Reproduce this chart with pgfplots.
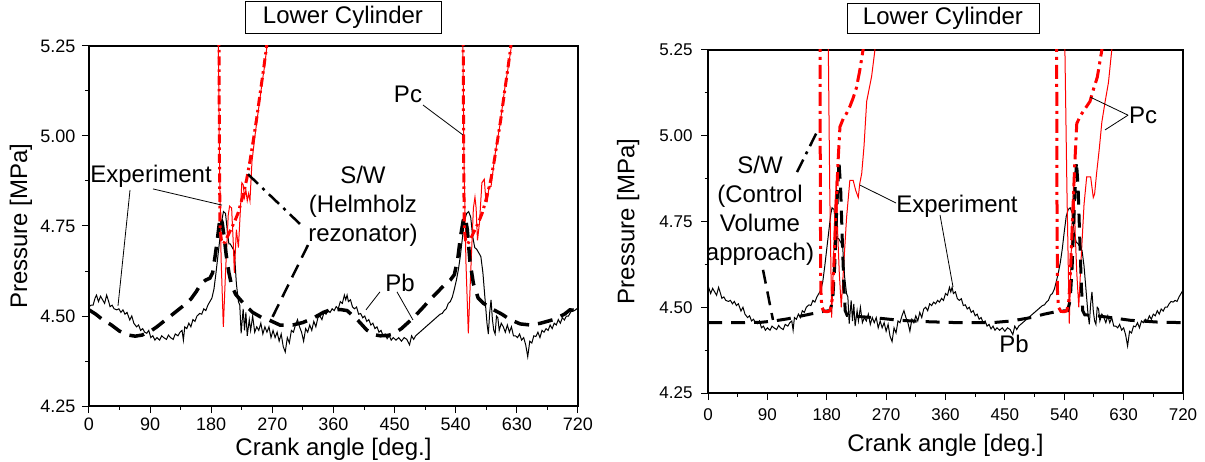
\documentclass[border=0pt]{standalone}
\usepackage{fontspec}
\setmainfont{Liberation Sans}
\usepackage{pgfplots}
\usepackage{pgfplotstable}
\pgfplotsset{compat=1.18}

% Measured pressure below the piston (Pb), crank angle [deg] vs pressure [MPa]
\pgfplotstableread{
ang p
0 4.526
3 4.53
6 4.53
9 4.55
11 4.558
14 4.54
17 4.555
20 4.545
23 4.535
26 4.558
29 4.54
31 4.526
34 4.53
37 4.52
41 4.517
44 4.52
47 4.51
50 4.517
53 4.505
56 4.51
60 4.489
63 4.50
66 4.48
70 4.47
73 4.475
76 4.46
79 4.465
82 4.455
85 4.452
88 4.46
91 4.44
94 4.445
97 4.433
100 4.44
104 4.433
107 4.445
110 4.44
114 4.435
117 4.447
120 4.44
124 4.435
127 4.45
131 4.445
134 4.455
137 4.46
139 4.433
141 4.47
144 4.465
147 4.48
150 4.47
153 4.49
156 4.485
159 4.50
163 4.507
166 4.505
169 4.52
172 4.515
175 4.53
178 4.54
181 4.55
184 4.575
187 4.62
190 4.67
193 4.72
196 4.77
198 4.79
201 4.785
204 4.73
206 4.70
208 4.70
211 4.69
214 4.68
217 4.59
220 4.54
222 4.53
224 4.452
227 4.52
229 4.46
231 4.51
233 4.445
236 4.49
238 4.46
241 4.50
244 4.455
247 4.47
250 4.46
253 4.48
256 4.45
259 4.47
262 4.455
265 4.47
268 4.44
271 4.46
274 4.44
277 4.455
280 4.43
283 4.45
286 4.415
289 4.40
292 4.44
295 4.425
298 4.46
301 4.455
304 4.475
307 4.49
310 4.47
313 4.455
316 4.43
319 4.465
322 4.455
325 4.475
328 4.46
331 4.485
334 4.47
337 4.495
340 4.50
343 4.49
346 4.51
349 4.505
352 4.515
355 4.51
358 4.52
361 4.515
364 4.526
367 4.52
370 4.54
373 4.535
376 4.558
378 4.545
380 4.558
382 4.54
385 4.545
388 4.525
391 4.52
394 4.525
397 4.505
400 4.507
403 4.495
406 4.50
409 4.485
412 4.49
415 4.475
418 4.48
421 4.465
424 4.47
427 4.455
430 4.46
433 4.445
436 4.45
439 4.437
442 4.445
445 4.433
448 4.44
452 4.433
456 4.44
460 4.43
464 4.44
468 4.435
472 4.42
475 4.445
478 4.435
481 4.445
484 4.45
487 4.455
490 4.46
493 4.465
496 4.47
499 4.475
502 4.48
505 4.485
508 4.49
511 4.495
514 4.50
517 4.505
520 4.507
523 4.515
526 4.52
529 4.535
532 4.54
535 4.553
538 4.575
541 4.60
544 4.63
547 4.67
550 4.72
553 4.765
556 4.785
559 4.79
562 4.775
565 4.72
568 4.69
571 4.685
574 4.675
577 4.665
580 4.62
583 4.55
586 4.48
588 4.45
590 4.51
592 4.545
594 4.49
596 4.46
598 4.45
600 4.50
602 4.495
604 4.46
607 4.48
610 4.47
613 4.455
616 4.475
619 4.455
622 4.47
625 4.445
628 4.445
631 4.44
634 4.45
637 4.433
640 4.44
643 4.42
646 4.387
649 4.43
652 4.425
655 4.445
658 4.443
661 4.455
664 4.44
667 4.46
670 4.455
673 4.465
676 4.46
679 4.475
682 4.465
685 4.48
688 4.475
691 4.49
694 4.48
697 4.495
700 4.489
703 4.50
706 4.50
709 4.51
712 4.517
715 4.515
718 4.52
721 4.517
724 4.53
727 4.54
730 4.55
}\expdata

% Simulated Pb, Helmholtz resonator model
\pgfplotstableread{
ang p
0 4.517
10 4.505
20 4.49
33 4.475
45 4.458
58 4.447
68 4.444
78 4.447
90 4.457
100 4.47
110 4.485
120 4.50
130 4.515
140 4.53
150 4.547
158 4.568
165 4.590
172 4.600
178 4.605
182 4.62
186 4.67
189.5 4.72
193 4.775
196 4.76
199 4.72
202 4.67
206 4.62
210 4.585
216 4.56
227 4.536
241 4.51
255 4.495
266 4.488
281 4.475
300 4.475
315 4.482
330 4.494
345 4.51
355 4.517
370 4.518
380 4.515
395 4.49
409 4.461
420 4.448
429 4.445
440 4.446
448 4.45
460 4.465
477 4.494
490 4.52
502 4.545
515 4.57
525 4.59
532 4.60
538 4.615
543 4.66
547 4.72
551 4.765
554 4.775
557 4.74
561 4.65
566 4.59
573 4.55
581 4.535
595 4.518
608 4.505
620 4.49
635 4.478
650 4.475
665 4.48
684 4.49
700 4.505
708 4.517
720 4.515
}\helmdata

% Simulated Pb, control volume model
\pgfplotstableread{
ang p
0 4.455
40 4.455
80 4.456
100 4.46
120 4.466
140 4.474
160 4.482
175 4.488
185 4.49
189 4.52
192 4.62
195 4.78
198.5 4.925
201 4.85
203.5 4.70
206 4.56
208 4.49
211 4.476
220 4.474
250 4.47
290 4.462
330 4.458
380 4.455
430 4.455
460 4.46
490 4.47
510 4.48
530 4.488
545 4.49
549 4.52
552 4.62
555 4.78
558.5 4.925
561 4.85
563.5 4.70
566 4.56
568 4.49
571 4.478
590 4.475
610 4.47
640 4.462
680 4.457
720 4.455
}\cvdata

\tikzset{
  exp/.style={black, line width=1pt},
  expc/.style={red, line width=1pt},
  simb/.style={black, line width=3.5pt, dash pattern=on 15pt off 9pt},
  simc/.style={red, line width=3pt, dash pattern=on 9pt off 4pt on 2.5pt off 4pt},
  lead/.style={black, line width=0.8pt},
  note/.style={font=\fontsize{24}{29}\selectfont},
}

\pgfplotsset{
  crankaxis/.style={
    scale only axis,
    xmin=0, xmax=720, ymin=4.25, ymax=5.25,
    xtick={0,90,...,720},
    ytick={4.25,4.5,4.75,5,5.25},
    minor x tick num=1, minor y tick num=1,
    tick pos=left, tick align=outside,
    major tick length=7pt, minor tick length=3.5pt,
    every tick/.style={black, line width=1pt},
    axis line style={black, line width=1.2pt},
    /pgf/number format/assume math mode=true,
    yticklabel style={/pgf/number format/fixed, /pgf/number format/fixed zerofill,
      /pgf/number format/precision=2},
    xticklabel style={/pgf/number format/fixed, /pgf/number format/precision=0,
      inner sep=1pt},
    xlabel={Crank angle [deg.]},
    ylabel={Pressure [MPa]},
    label style={font=\fontsize{24}{28}\selectfont, inner sep=0pt},
    title={Lower Cylinder},
    title style={at={(axis description cs:0.5,1)}, anchor=south,
      draw=black, line width=0.8pt, inner sep=0pt,
      font=\fontsize{24}{28}\selectfont},
  },
}

\begin{document}
\begin{tikzpicture}
\useasboundingbox (0,0) rectangle (1205pt,461pt);

% ---- Helmholtz resonator model ----
\begin{axis}[crankaxis,
  at={(89pt,55pt)}, anchor=south west,
  width=489pt, height=360pt,
  tick label style={font=\fontsize{18}{20}\selectfont},
  xticklabel style={yshift=-4pt},
  yticklabel style={xshift=-3pt},
  xlabel style={at={(axis description cs:0.5,-0.1375)}, anchor=base},
  ylabel style={at={(axis description cs:-0.139,0.5)}, anchor=center},
  title style={xshift=9.5pt, yshift=6pt, minimum width=196pt, minimum height=32pt},
]
\addplot[exp] table[x=ang, y=p] {\expdata};
\addplot[expc] coordinates {
(189,5.6) (190.5,5.25) (192,4.95) (194.5,4.66) (197.8,4.47) (201,4.62) (205,4.78)
(207,4.805) (210,4.80) (212.5,4.70) (214,4.62) (217,4.74) (220,4.69) (222.5,4.78)
(225,4.87) (227,4.865) (229,4.83) (231,4.85) (233,4.82) (235,4.84) (237,4.82)
(240,4.93) (245,5.01) (250,5.08) (255,5.15) (259,5.20) (262,5.25) (264,5.3)};
\addplot[expc] coordinates {
(549,5.6) (550.5,5.25) (552,4.95) (555,4.65) (558.5,4.452) (562,4.62) (566,4.80)
(568.3,4.83) (570,4.80) (572,4.71) (575,4.76) (578.5,4.87) (582,4.88) (584,4.83)
(586.5,4.82) (589,4.86) (592,4.86) (598,4.95) (605,5.03) (612,5.13) (618,5.20)
(622,5.25) (624,5.3)};
\addplot[simb] table[x=ang, y=p] {\helmdata};
\addplot[simc] coordinates {
(189,5.6) (191.4,5.25) (192.2,4.90) (193,4.74) (195,4.71) (198,4.70) (201,4.71)
(205,4.725) (210,4.745) (215,4.765) (219.5,4.786) (226,4.83) (232,4.878) (237,4.93)
(242,4.989) (247,5.05) (252,5.119) (257,5.185) (261.6,5.25) (264,5.29)};
\addplot[simc] coordinates {
(548.6,5.6) (551,5.25) (551.8,4.90) (552.6,4.74) (554.6,4.71) (557.6,4.70) (560.6,4.71)
(564.6,4.725) (569.6,4.745) (574.6,4.765) (579,4.786) (585.6,4.83) (591.6,4.878)
(596.6,4.93) (601.6,4.989) (606.6,5.05) (611.6,5.119) (616.6,5.185) (621.2,5.25) (623.6,5.29)};

% annotations
\node[note, anchor=base] at (axis cs:91.3,4.872) {Experiment};
\draw[lead] (axis cs:60.4,4.85) -- (axis cs:42.7,4.528);
\draw[lead] (axis cs:94.2,4.853) -- (axis cs:195.8,4.808);
\node[note, anchor=base] at (axis cs:469.7,5.094) {Pc};
\draw[lead] (axis cs:491.8,5.086) -- (axis cs:550.6,5.003);
\node[note, anchor=base] at (axis cs:457.9,4.567) {Pb};
\draw[lead] (axis cs:428.4,4.567) -- (axis cs:407.8,4.517);
\draw[lead] (axis cs:453.5,4.567) -- (axis cs:477,4.489);
\node[note, align=center] at (axis cs:403.4,4.806) {S/W\\(Helmholz\\rezonator)};
\draw[black, line width=2.5pt, dash pattern=on 14pt off 6pt on 3pt off 6pt]
  (axis cs:234,4.894) -- (axis cs:311,4.755);
\draw[black, line width=2.5pt, dash pattern=on 14pt off 8pt]
  (axis cs:322.4,4.697) -- (axis cs:266.5,4.483);
\end{axis}

% ---- Control volume model ----
\begin{axis}[crankaxis,
  at={(708pt,68pt)}, anchor=south west,
  width=475pt, height=343pt,
  tick label style={font=\fontsize{17}{19}\selectfont},
  xticklabel style={yshift=-7pt},
  yticklabel style={xshift=-5pt},
  xlabel style={at={(axis description cs:0.5,-0.172)}, anchor=base},
  ylabel style={at={(axis description cs:-0.168,0.5)}, anchor=center},
  title style={xshift=-2.5pt, yshift=10pt, minimum width=192pt, minimum height=30pt},
]
\addplot[exp] table[x expr=\thisrowno{0}-10, y index=1] {\expdata};
\addplot[expc] coordinates {
(180,5.5) (182.4,5.25) (184.5,4.85) (187.4,4.47) (190,4.62) (192.5,4.80) (194.5,4.87)
(196.5,4.72) (199,4.60) (202,4.50) (205,4.60) (210,4.76) (215,4.87) (220,4.87)
(224,4.84) (227.8,4.82) (230,4.86) (233,4.89) (236.5,4.97) (240.5,5.10) (248,5.173)
(253,5.25) (256,5.32)};
\addplot[expc] coordinates {
(539,5.5) (541,5.25) (544,4.85) (547.6,4.452) (550,4.62) (552.5,4.80) (554.5,4.87)
(556.5,4.72) (559,4.60) (562,4.50) (565,4.62) (570,4.80) (574,4.88) (580,4.88)
(584,4.82) (586,4.83) (589,4.89) (593,4.96) (597,5.04) (602,5.10) (607,5.155)
(612,5.25) (615,5.32)};
\addplot[black, line width=3pt, dash pattern=on 14pt off 9pt] table[x=ang, y=p] {\cvdata};
\addplot[simc, dash pattern=on 14pt off 5pt on 3pt off 5pt] coordinates {
(167,5.6) (169.8,5.25) (170.3,4.80) (171,4.55) (172.5,4.50) (176,4.488) (181,4.487)
(185,4.49) (188,4.52) (191,4.63) (194,4.78) (197,4.92) (200,5.026) (205,5.05)
(210,5.065) (215,5.085) (220,5.11) (225,5.14) (230,5.19) (235,5.25) (238,5.3)};
\addplot[simc, dash pattern=on 14pt off 5pt on 3pt off 5pt] coordinates {
(526,5.6) (528.5,5.25) (529,4.80) (529.7,4.55) (531.2,4.50) (535,4.488) (540,4.487)
(544,4.49) (547,4.52) (550,4.63) (553,4.78) (556,4.92) (559,5.036) (565,5.06)
(572,5.08) (579,5.10) (585,5.14) (590,5.17) (597,5.25) (600,5.3)};

% annotations
\node[note, align=center] at (axis cs:78.8,4.781) {S/W\\(Control\\Volume\\approach)};
\draw[black, line width=2.5pt, dash pattern=on 14pt off 6pt on 3pt off 6pt]
  (axis cs:134.9,4.894) -- (axis cs:166.7,5.017);
\draw[black, line width=2.5pt, dash pattern=on 14pt off 8pt]
  (axis cs:83.4,4.609) -- (axis cs:98.5,4.463);
\node[note, anchor=base] at (axis cs:377.4,4.776) {Experiment};
\draw[lead] (axis cs:285,4.804) -- (axis cs:230.4,4.856);
\draw[lead] (axis cs:351.7,4.769) -- (axis cs:371.4,4.559);
\node[note, anchor=base] at (axis cs:659.4,5.036) {Pc};
\draw[lead] (axis cs:636.7,5.060) -- (axis cs:579,5.113);
\draw[lead] (axis cs:636.7,5.060) -- (axis cs:601.8,5.017);
\node[note, anchor=base] at (axis cs:463.8,4.3675) {Pb};
\end{axis}
\end{tikzpicture}
\end{document}
